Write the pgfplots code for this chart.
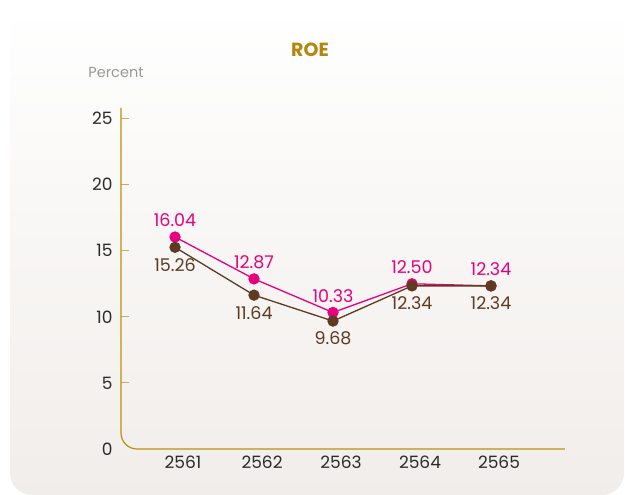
\documentclass[border=0pt]{standalone}
\usepackage{fontspec}
\setmainfont{Poppins}
\usepackage{pgfplots}
\pgfplotsset{compat=1.18}

\definecolor{roepink}{HTML}{E6007E}
\definecolor{roebrown}{HTML}{5E3B1F}
\definecolor{axisgold}{HTML}{B8920C}
\definecolor{tickgold}{HTML}{CBAE55}
\definecolor{titlegold}{HTML}{B5850F}
\definecolor{labelgrey}{HTML}{2B2B2B}
\definecolor{cardbottom}{HTML}{F1EDEA}

\begin{document}
\begin{tikzpicture}[x=1pt,y=1pt]
\useasboundingbox (0,0) rectangle (625,495);
\fill[white] (0,0) rectangle (625,495);
\shade[top color=white, bottom color=cardbottom, rounded corners=22pt] (10,0) rectangle (624,487);

% title and unit
\node[font=\fontsize{19}{22}\selectfont\bfseries, text=titlegold] at (310,445) {ROE};
\node[font=\fontsize{14.5}{17}\selectfont, text=black!40] at (116,422) {Percent};

\begin{axis}[
    at={(121pt,46pt)}, anchor=south west,
    scale only axis,
    width=444pt, height=341pt,
    xmin=0.316, xmax=5.937,
    ymin=0, ymax=25.8,
    axis lines=left,
    axis line style={draw=none},
    clip=false,
    /pgf/number format/assume math mode=true,
    font=\fontsize{17}{20}\selectfont,
    xtick={1,2,3,4,5},
    xticklabels={2561,2562,2563,2564,2565},
    x tick style={draw=none},
    xticklabel style={text=labelgrey, yshift=-3pt, xshift=8pt},
    ytick={5,10,15,20,25},
    extra y ticks={0},
    extra y tick style={y tick style={draw=none}},
    y tick style={color=tickgold, line width=1pt},
    tick align=inside,
    major tick length=8pt,
    yticklabel style={text=labelgrey, xshift=-5pt},
    nodes near coords,
    every node near coord/.append style={font=\fontsize{17.5}{20}\selectfont,
        /pgf/number format/fixed, /pgf/number format/fixed zerofill,
        /pgf/number format/precision=2},
]
% axis line with rounded corner
\draw[axisgold, line width=1.2pt, rounded corners=16pt]
    (rel axis cs:0,1) -- (rel axis cs:0,0) -- (rel axis cs:1,0);

\addplot[color=roepink, line width=1.3pt, mark=*, mark size=5pt,
    mark options={fill=roepink, draw=roepink},
    nodes near coords style={text=roepink, anchor=south, yshift=6pt}]
coordinates {(1,16.04)(2,12.87)(3,10.33)(4,12.50)(5,12.34)};

\addplot[color=roebrown, line width=1.3pt, mark=*, mark size=5pt,
    mark options={fill=roebrown, draw=roebrown},
    nodes near coords style={text=roebrown, anchor=north, yshift=-7pt}]
coordinates {(1,15.26)(2,11.64)(3,9.68)(4,12.34)(5,12.34)};
\end{axis}
\end{tikzpicture}
\end{document}
